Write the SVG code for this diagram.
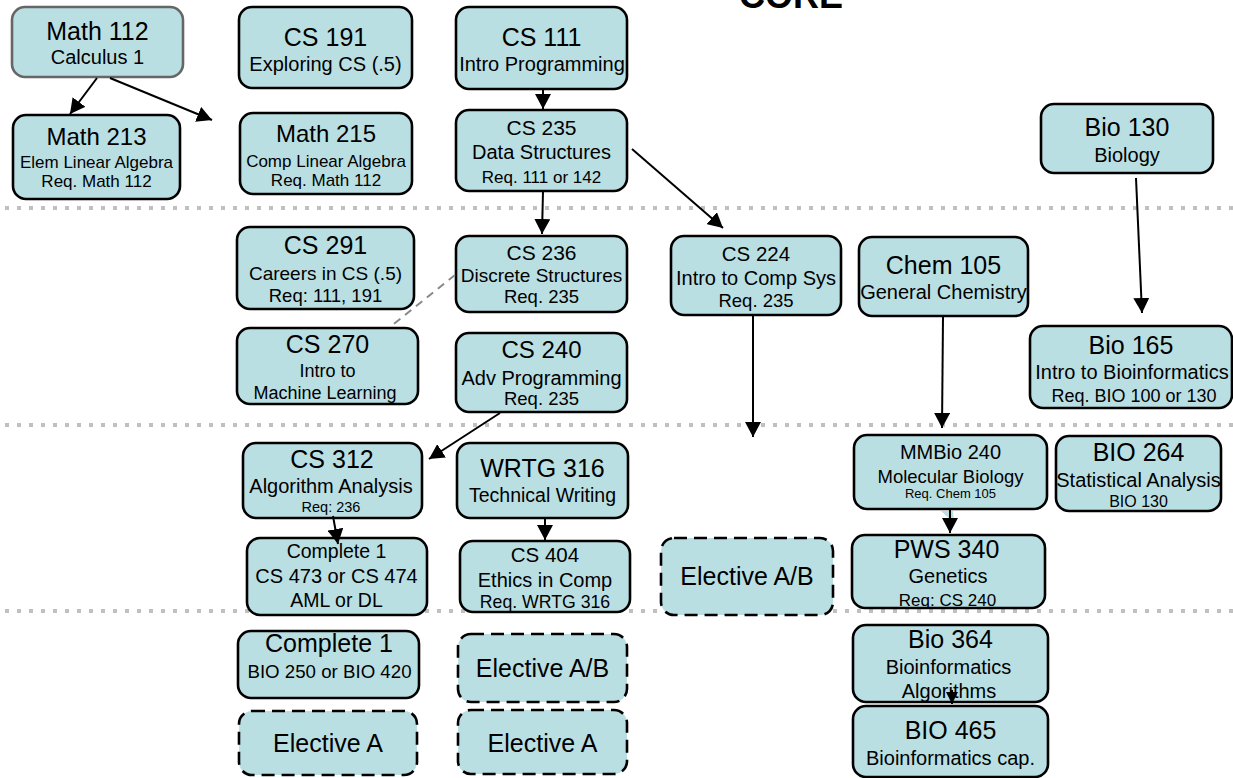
<svg xmlns="http://www.w3.org/2000/svg" width="1233" height="778" viewBox="0 0 1233 778">
<defs>
<marker id="ah" markerUnits="userSpaceOnUse" markerWidth="16" markerHeight="16" refX="15" refY="8" orient="auto"><path d="M0,0 L15,8 L0,16 z" fill="#000"/></marker>
<marker id="ahs" markerUnits="userSpaceOnUse" markerWidth="12" markerHeight="12" refX="12" refY="6" orient="auto"><path d="M0,0 L12,6 L0,12 z" fill="#000"/></marker>
<style>
.n{fill:#badfe3;stroke:#000;stroke-width:2.6}
.g{stroke:#666}
.d{stroke-dasharray:13 7}
text{font-family:"Liberation Sans",Arial,sans-serif;text-anchor:middle;fill:#000}
.sep{stroke:#c0c0c0;stroke-width:4;stroke-dasharray:4 8}
.c{stroke:#000;stroke-width:2;fill:none;marker-end:url(#ah)}
</style>
</defs>
<rect width="1233" height="778" fill="#fff"/>
<g id="separators">
<line class="sep" x1="5" y1="208" x2="1233" y2="208"/>
<line class="sep" x1="5" y1="425" x2="1233" y2="425"/>
<line class="sep" x1="5" y1="611" x2="1233" y2="611"/>
</g>
<text x="791" y="8" style="font-size:36px;font-weight:bold">CORE</text>

<g id="math112"><rect class="n g" x="12" y="7" width="171" height="70" rx="13"/><text x="97.5" y="40" font-size="25">Math 112</text><text x="97.5" y="64" font-size="20">Calculus 1</text></g>
<g id="cs191"><rect class="n" x="239" y="7" width="173" height="81" rx="13"/><text x="325.5" y="46" font-size="25">CS 191</text><text x="325.5" y="71" font-size="20">Exploring CS (.5)</text></g>
<g id="cs111"><rect class="n" x="456" y="7" width="171" height="82" rx="13"/><text x="541.5" y="46" font-size="25">CS 111</text><text x="542" y="71" font-size="20">Intro Programming</text></g>
<g id="math213"><rect class="n" x="13" y="115" width="167" height="84" rx="13"/><text x="96.5" y="145" font-size="24">Math 213</text><text x="96.5" y="168" font-size="17">Elem Linear Algebra</text><text x="96.5" y="187" font-size="17">Req. Math 112</text></g>
<g id="math215"><rect class="n" x="240" y="113" width="172" height="81" rx="13"/><text x="326" y="142" font-size="24">Math 215</text><text x="326" y="167" font-size="17">Comp Linear Algebra</text><text x="326" y="186" font-size="17">Req. Math 112</text></g>
<g id="cs235"><rect class="n" x="456" y="110" width="171" height="81" rx="13"/><text x="541.5" y="135" font-size="21">CS 235</text><text x="541.5" y="159" font-size="20">Data Structures</text><text x="541.5" y="183" font-size="17">Req. 111 or 142</text></g>
<g id="bio130"><rect class="n" x="1041" y="104" width="172" height="69" rx="13"/><text x="1127" y="136" font-size="25">Bio 130</text><text x="1127" y="162" font-size="20">Biology</text></g>

<g id="cs291"><rect class="n" x="237" y="227" width="177" height="82" rx="13"/><text x="325.5" y="254" font-size="25">CS 291</text><text x="325.5" y="280" font-size="19">Careers in CS (.5)</text><text x="325.5" y="302" font-size="18.5">Req: 111, 191</text></g>
<g id="cs236"><rect class="n" x="456" y="236" width="171" height="76" rx="13"/><text x="541.5" y="260" font-size="21">CS 236</text><text x="541.5" y="282" font-size="19">Discrete Structures</text><text x="541.5" y="303" font-size="18.5">Req. 235</text></g>
<g id="cs224"><rect class="n" x="671" y="236" width="170" height="79" rx="13"/><text x="756" y="261" font-size="20.5">CS 224</text><text x="756" y="285" font-size="20">Intro to Comp Sys</text><text x="756" y="307" font-size="18.5">Req. 235</text></g>
<g id="chem105"><rect class="n" x="859" y="237" width="169" height="79" rx="13"/><text x="943.5" y="274" font-size="25">Chem 105</text><text x="943.5" y="299" font-size="20">General Chemistry</text></g>
<g id="cs270"><rect class="n" x="237" y="328" width="181" height="76" rx="13"/><text x="327.5" y="353" font-size="25">CS 270</text><text x="327.5" y="377" font-size="18">Intro to</text><text x="325" y="399" font-size="18">Machine Learning</text></g>
<g id="cs240"><rect class="n" x="456" y="333" width="171" height="79" rx="13"/><text x="541.5" y="358" font-size="24">CS 240</text><text x="541.5" y="385" font-size="20">Adv Programming</text><text x="541.5" y="405" font-size="18.5">Req. 235</text></g>
<g id="bio165"><rect class="n" x="1030" y="326" width="202" height="82" rx="13"/><text x="1131" y="354" font-size="25">Bio 165</text><text x="1132" y="379" font-size="20">Intro to Bioinformatics</text><text x="1134" y="402" font-size="18">Req. BIO 100 or 130</text></g>

<g id="cs312"><rect class="n" x="243" y="443" width="179" height="75" rx="13"/><text x="332" y="468" font-size="25">CS 312</text><text x="331" y="493" font-size="20">Algorithm Analysis</text><text x="331" y="512" font-size="14.5">Req: 236</text></g>
<g id="wrtg316"><rect class="n" x="457" y="443" width="171" height="75" rx="13"/><text x="542.5" y="477" font-size="25">WRTG 316</text><text x="542.5" y="502" font-size="19.5">Technical Writing</text></g>
<g id="mmbio240"><rect class="n" x="854" y="435" width="193" height="74" rx="13"/><text x="950.5" y="459" font-size="20">MMBio 240</text><text x="950.5" y="483" font-size="18.5">Molecular Biology</text><text x="950.5" y="498" font-size="13">Req. Chem 105</text></g>
<g id="bio264"><rect class="n" x="1056" y="436" width="165" height="75" rx="13"/><text x="1138.5" y="461" font-size="25">BIO 264</text><text x="1138.5" y="487" font-size="20">Statistical Analysis</text><text x="1138.5" y="507" font-size="16">BIO 130</text></g>
<g id="complete1cs"><rect class="n" x="247" y="538" width="180" height="77" rx="13"/><text x="336.5" y="558" font-size="19.5">Complete 1</text><text x="336.5" y="583" font-size="20">CS 473 or CS 474</text><text x="336.5" y="607" font-size="19.5">AML or DL</text></g>
<g id="cs404"><rect class="n" x="460" y="541" width="170" height="71" rx="13"/><text x="545" y="562" font-size="20.5">CS 404</text><text x="545" y="587" font-size="20">Ethics in Comp</text><text x="545" y="608" font-size="17.7">Req. WRTG 316</text></g>
<g id="electiveAB1"><rect class="n d" x="661" y="538" width="172" height="77" rx="13"/><text x="747" y="585" font-size="25">Elective A/B</text></g>
<g id="pws340"><rect class="n" x="852" y="535" width="193" height="73" rx="13"/><text x="946.5" y="558" font-size="25">PWS 340</text><text x="948" y="583" font-size="20">Genetics</text><text x="947.5" y="606" font-size="17">Req: CS 240</text></g>

<g id="complete1bio"><rect class="n" x="238" y="631" width="181" height="67" rx="13"/><text x="329" y="652" font-size="25">Complete 1</text><text x="329.5" y="678" font-size="18.7">BIO 250 or BIO 420</text></g>
<g id="electiveAB2"><rect class="n d" x="458" y="634" width="169" height="68" rx="13"/><text x="542.5" y="677" font-size="25">Elective A/B</text></g>
<g id="electiveA1"><rect class="n d" x="239" y="711" width="178" height="64" rx="13"/><text x="328" y="752" font-size="25">Elective A</text></g>
<g id="electiveA2"><rect class="n d" x="458" y="710" width="169" height="64" rx="13"/><text x="542.5" y="752" font-size="25">Elective A</text></g>
<g id="bio364"><rect class="n" x="853" y="625" width="195" height="77" rx="13"/><text x="950.5" y="648" font-size="25">Bio 364</text><text x="948.5" y="674" font-size="20">Bioinformatics</text><text x="949" y="698" font-size="20">Algorithms</text></g>
<g id="bio465"><rect class="n" x="853" y="706" width="195" height="71" rx="13"/><text x="950.5" y="739" font-size="25">BIO 465</text><text x="950.5" y="765" font-size="20">Bioinformatics cap.</text></g>

<g id="connectors">
<line class="c" x1="97" y1="78" x2="70" y2="114"/>
<line class="c" x1="110" y1="78" x2="212" y2="120"/>
<line class="c" x1="543" y1="89" x2="543" y2="109"/>
<line class="c" x1="632" y1="149" x2="723" y2="228"/>
<line class="c" x1="543" y1="191" x2="542" y2="234"/>
<line class="c" x1="1136" y1="178" x2="1142" y2="313"/>
<line x1="455" y1="275" x2="390" y2="327" stroke="#888" stroke-width="2" stroke-dasharray="8 6"/>
<line class="c" x1="500" y1="413" x2="429" y2="459"/>
<line class="c" x1="753" y1="315" x2="753" y2="437"/>
<line class="c" x1="943" y1="317" x2="942" y2="428"/>
<line class="c" x1="333" y1="516" x2="338" y2="544"/>
<line class="c" x1="545" y1="518" x2="545" y2="540"/>
<polygon points="941,511 953,511 954,523" fill="#badfe3"/>
<line class="c" x1="950" y1="509" x2="950" y2="533"/>
<line x1="952" y1="690" x2="952" y2="704" stroke="#000" stroke-width="2" marker-end="url(#ahs)"/>
</g>
</svg>
